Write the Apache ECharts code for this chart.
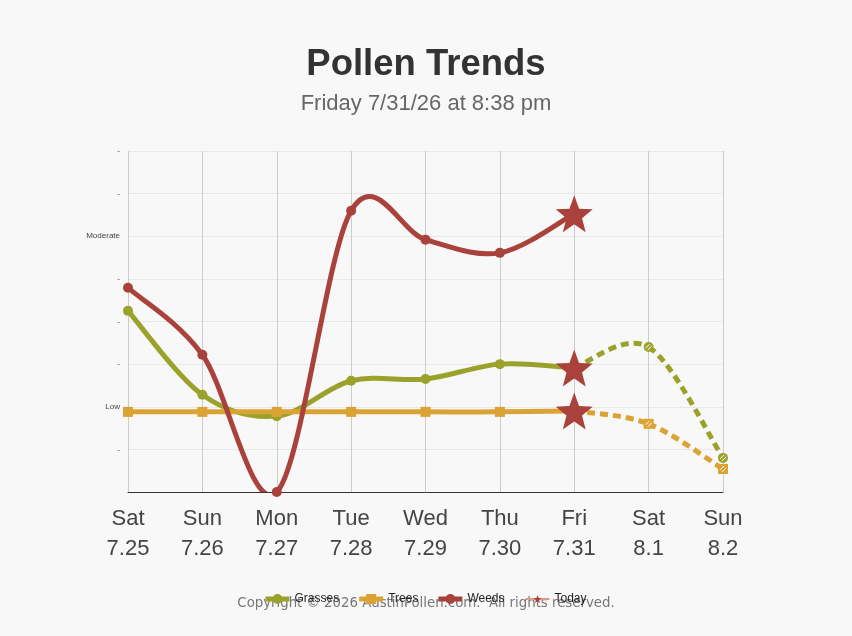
<!DOCTYPE html>
<html>
<head>
<meta charset="utf-8">
<script src="https://cdn.jsdelivr.net/npm/echarts@6/dist/echarts.min.js"></script>
<style>
  html, body { margin: 0; padding: 0; background: #f8f8f8; }
  #chart { width: 852px; height: 636px; }
</style>
</head>
<body>
<div id="chart"></div>
<script>
// days shown on the x axis
var days = ['Sat\n7.25', 'Sun\n7.26', 'Mon\n7.27', 'Tue\n7.28', 'Wed\n7.29', 'Thu\n7.30', 'Fri\n7.31', 'Sat\n8.1', 'Sun\n8.2'];
// level labels, index = value on y axis
var levelLabels = ['', '-', 'Low', '-', '-', '-', 'Moderate', '-', '-'];

// observed values (Sat 7.25 - Fri 7.31)
var grasses = [4.25, 2.28, 1.78, 2.61, 2.65, 3.0, 2.91, '-', '-'];
var trees = [1.88, 1.88, 1.88, 1.88, 1.88, 1.88, 1.9, '-', '-'];
var weeds = [4.79, 3.22, 0.0, 6.6, 5.92, 5.61, 6.53, '-', '-'];
// forecast (Fri 7.31 - Sun 8.2)
var grassesForecast = ['-', '-', '-', '-', '-', '-', 2.91, 3.4, 0.8];
var treesForecast = ['-', '-', '-', '-', '-', '-', 1.9, 1.6, 0.54];
// today markers
var todayPoints = [[days[6], 6.53], [days[6], 2.91], [days[6], 1.9]];

var cGrass = '#9ba22b', cTree = '#dba334', cWeed = '#a8423a';
var starPath = 'path://M50 0 L62.34 33.01 L97.55 34.55 L69.97 56.49 L79.39 90.45 L50 71 L20.61 90.45 L30.03 56.49 L2.45 34.55 L37.66 33.01 Z';
var iconCircle = 'path://M0 2.5 L24 2.5 L24 7.5 L0 7.5 Z M7 5 A5 5 0 1 1 17 5 A5 5 0 1 1 7 5 Z';
var iconSquare = 'path://M0 2.5 L24 2.5 L24 7.5 L0 7.5 Z M7 0 L17 0 L17 10 L7 10 Z';

// spline through the points (catmull-rom), one segment + marker per data item
function curveSeries(name, values, color, dashed, marker) {
  var idx = [];
  values.forEach(function (v, i) { if (v !== '-') idx.push(i); });
  return {
    name: name,
    type: 'custom',
    itemStyle: { color: color },
    data: idx.map(function (i) { return [i, values[i]]; }),
    encode: { x: 0, y: 1 },
    renderItem: function (params, api) {
      var k = params.dataIndex;
      var pts = idx.map(function (i) { return api.coord([i, values[i]]); });
      var cs = params.coordSys;
      var children = [];
      if (k < pts.length - 1) {
        var p0 = pts[Math.max(k - 1, 0)], p1 = pts[k], p2 = pts[k + 1], p3 = pts[Math.min(k + 2, pts.length - 1)];
        children.push({
          type: 'bezierCurve',
          shape: {
            x1: p1[0], y1: p1[1],
            cpx1: p1[0] + (p2[0] - p0[0]) / 6, cpy1: p1[1] + (p2[1] - p0[1]) / 6,
            cpx2: p2[0] - (p3[0] - p1[0]) / 6, cpy2: p2[1] - (p3[1] - p1[1]) / 6,
            x2: p2[0], y2: p2[1]
          },
          style: { stroke: color, lineWidth: 5, fill: null, lineDash: dashed ? [8, 5] : null },
          clipPath: { type: 'rect', shape: { x: cs.x, y: cs.y - 60, width: cs.width, height: cs.height + 60 } }
        });
      }
      var c = pts[k];
      if (marker === 'rect') {
        children.push({ type: 'rect', shape: { x: c[0] - 5, y: c[1] - 5, width: 10, height: 10 }, style: { fill: color }, z2: 5 });
      } else {
        children.push({ type: 'circle', shape: { cx: c[0], cy: c[1], r: 5 }, style: { fill: color }, z2: 5 });
      }
      if (dashed && k > 0) {
        // hatched forecast marker
        children.push({ type: 'line', shape: { x1: c[0] - 3, y1: c[1] + 1, x2: c[0] + 1, y2: c[1] - 3 }, style: { stroke: '#fff', lineWidth: 1 }, z2: 6 });
        children.push({ type: 'line', shape: { x1: c[0] - 1, y1: c[1] + 3, x2: c[0] + 3, y2: c[1] - 1 }, style: { stroke: '#fff', lineWidth: 1 }, z2: 6 });
      }
      return { type: 'group', children: children };
    }
  };
}

// empty line series only give the legend its icons
function legendSeries(name, color, symbol, lineColor, lineWidth) {
  return {
    name: name, type: 'line', data: [], symbol: symbol, symbolSize: 10,
    itemStyle: { color: color }, lineStyle: { color: lineColor, width: lineWidth }
  };
}

var option = {
  backgroundColor: '#f8f8f8',
  textStyle: { fontFamily: 'Liberation Sans, Arial, sans-serif' },
  title: {
    left: 'center',
    top: 41,
    text: 'Pollen Trends',
    subtext: 'Friday 7/31/26 at 8:38 pm',
    itemGap: 10,
    textStyle: { fontSize: 36.5, fontWeight: 'bold', color: '#333' },
    subtextStyle: { fontSize: 22, color: '#666' }
  },
  grid: { left: 128, right: 129, top: 151, bottom: 144 },
  legend: {
    left: 'center',
    top: 588,
    itemWidth: 24,
    itemHeight: 10,
    itemGap: 20,
    textStyle: { fontSize: 12, color: '#222' },
    data: [
      { name: 'Grasses', icon: iconCircle },
      { name: 'Trees', icon: iconSquare },
      { name: 'Weeds', icon: iconCircle },
      'Today'
    ],
    z: 10
  },
  graphic: [{
    type: 'text',
    left: 'center',
    top: 597,
    z: 1,
    style: {
      text: 'Copyright \u00a9 2026 AustinPollen.com.  All rights reserved.',
      font: '13.3px "DejaVu Sans", sans-serif',
      fill: '#777'
    }
  }],
  xAxis: {
    type: 'category',
    boundaryGap: false,
    data: days,
    axisLine: { lineStyle: { color: '#333', width: 1 } },
    axisTick: { show: false },
    axisLabel: { fontSize: 22, color: '#444', lineHeight: 30, margin: 12 },
    splitLine: { show: true, lineStyle: { color: '#cccccc', width: 1 } }
  },
  yAxis: {
    type: 'value',
    min: 0,
    max: 8,
    interval: 1,
    axisLine: { show: false },
    axisTick: { show: false },
    axisLabel: {
      fontSize: 8,
      color: '#444',
      margin: 8,
      formatter: function (v) { return levelLabels[v] || ''; }
    },
    splitLine: { lineStyle: { color: '#e8e8e8', width: 1 } }
  },
  series: [
    legendSeries('Grasses', cGrass, 'circle', cGrass, 5),
    legendSeries('Trees', cTree, 'rect', cTree, 5),
    legendSeries('Weeds', cWeed, 'circle', cWeed, 5),
    legendSeries('Today', cWeed, starPath, '#e29890', 2),
    curveSeries('Grasses', grasses, cGrass, false, 'circle'),
    curveSeries('Grasses', grassesForecast, cGrass, true, 'circle'),
    curveSeries('Trees', trees, cTree, false, 'rect'),
    curveSeries('Trees', treesForecast, cTree, true, 'rect'),
    curveSeries('Weeds', weeds, cWeed, false, 'circle'),
    {
      name: 'Today', type: 'scatter', data: todayPoints,
      symbol: starPath, symbolSize: 37, itemStyle: { color: cWeed, opacity: 1 }, z: 6
    }
  ]
};

var chart = echarts.init(document.getElementById('chart'));
chart.setOption(option, true);
</script>
</body>
</html>
